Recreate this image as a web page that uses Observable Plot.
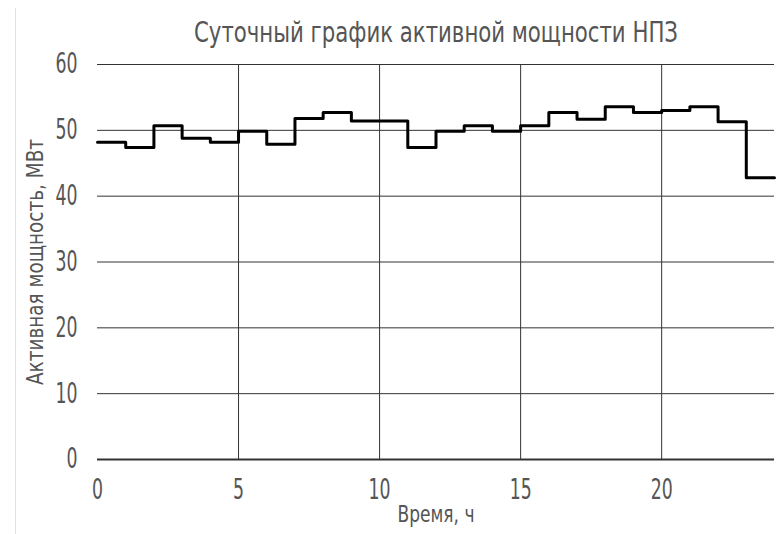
<!DOCTYPE html>
<html>
<head>
<meta charset="utf-8">
<script src="https://cdn.jsdelivr.net/npm/d3@7"></script>
<script src="https://cdn.jsdelivr.net/npm/@observablehq/plot@0.6"></script>
<style>
  html, body { margin: 0; padding: 0; background: #fff; }
  #wrap { position: relative; width: 782px; height: 534px; }
  #edge { position: absolute; left: 15px; top: 8px; height: 526px; border-left: 1px solid #e2e2e2; }
  svg text { font-family: "DejaVu Sans", sans-serif; font-stretch: condensed; }
</style>
</head>
<body>
<div id="wrap"><div id="edge"></div></div>
<script>
const title = "Суточный график активной мощности НПЗ";
const xLabel = "Время, ч";
const yLabel = "Активная мощность, МВт";
const hours = [0, 1, 2, 3, 4, 5, 6, 7, 8, 9, 10, 11, 12, 13, 14, 15, 16, 17, 18, 19, 20, 21, 22, 23];
const power = [48.2, 47.4, 50.7, 48.8, 48.2, 49.85, 47.9, 51.8, 52.7, 51.4, 51.4, 47.4, 49.85, 50.7, 49.85, 50.7, 52.7, 51.7, 53.6, 52.7, 53.0, 53.6, 51.3, 42.8];
const xTicks = [0, 5, 10, 15, 20];
const yTicks = [0, 10, 20, 30, 40, 50, 60];

const rows = hours.map((h, i) => ({h, p: power[i]}));
rows.push({h: hours[hours.length - 1] + 1, p: power[power.length - 1]});

const textColor = "#555";

const chart = Plot.plot({
  width: 782,
  height: 534,
  marginLeft: 97,
  marginRight: 8,
  marginTop: 64,
  marginBottom: 75,
  style: {background: "transparent", color: textColor},
  x: {domain: [0, 24], ticks: xTicks, tickSize: 0, label: null},
  y: {domain: [0, 60], ticks: yTicks, tickSize: 0, label: null},
  marks: [
    Plot.gridY(yTicks.filter(d => d > 0), {stroke: "#333", strokeOpacity: 1, strokeWidth: 1}),
    Plot.gridX(xTicks.filter(d => d > 0), {stroke: "#333", strokeOpacity: 1, strokeWidth: 1}),
    Plot.ruleY([0], {stroke: "#333", strokeWidth: 2}),
    Plot.axisX({ticks: xTicks, tickSize: 0, tickPadding: 20, fontSize: 28, fill: textColor}),
    Plot.axisY({ticks: yTicks, tickSize: 0, tickPadding: 20, fontSize: 28, fill: textColor}),
    Plot.line(rows, {x: "h", y: "p", curve: "step-after", stroke: "#000", strokeWidth: 3}),
    Plot.text([title], {frameAnchor: "top", dy: -31, lineAnchor: "middle", fontSize: 28, fill: textColor}),
    Plot.text([xLabel], {frameAnchor: "bottom", dy: 62, fontSize: 23, fill: textColor}),
    Plot.text([yLabel], {frameAnchor: "left", dx: -62, rotate: -90, textAnchor: "middle", fontSize: 23, fill: textColor})
  ]
});

// narrow the lettering to match the drafting-style font of the reference
const widths = new Map([[title, 484], [xLabel, 77], [yLabel, 246]]);
chart.querySelectorAll("text").forEach(t => {
  const s = t.textContent;
  let w = widths.get(s);
  if (w == null && /^\d+$/.test(s)) w = s.length * 11;
  if (w != null) {
    t.setAttribute("textLength", w);
    t.setAttribute("lengthAdjust", "spacingAndGlyphs");
  }
});
document.getElementById("wrap").appendChild(chart);
</script>
</body>
</html>
